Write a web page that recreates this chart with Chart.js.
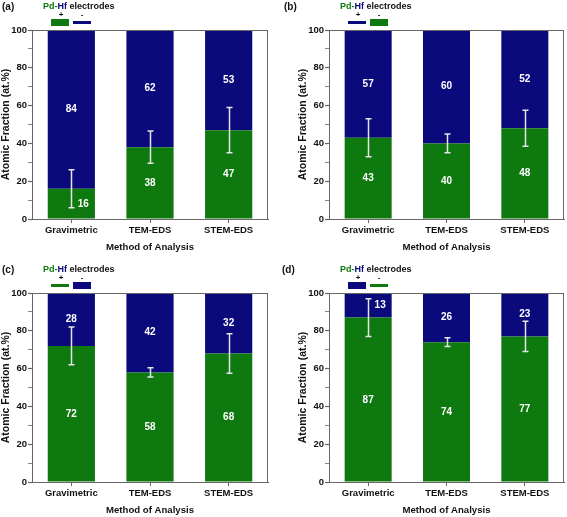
<!DOCTYPE html>
<html>
<head>
<meta charset="utf-8">
<script src="https://cdn.jsdelivr.net/npm/chart.js@4/dist/chart.umd.min.js"></script>
<style>
  html, body { margin: 0; padding: 0; background: #fff; }
  #wrap { position: relative; width: 567px; height: 517px; overflow: hidden; }
  canvas { position: absolute; }
</style>
</head>
<body>
<div id="wrap">
  <canvas id="panelA" width="280" height="254" style="left:0;top:0"></canvas>
  <canvas id="panelB" width="287" height="254" style="left:280px;top:0"></canvas>
  <canvas id="panelC" width="280" height="254" style="left:0;top:263px"></canvas>
  <canvas id="panelD" width="287" height="254" style="left:280px;top:263px"></canvas>
</div>
<script>
const categories = ["Gravimetric", "TEM-EDS", "STEM-EDS"];
const yTicks = [0, 20, 40, 60, 80, 100];

// Pd (green, bottom) / Hf (blue, top), at.%
const pdA = [16, 38, 47];
const hfA = [84, 62, 53];
const errA = [10, 8.5, 12];

const pdB = [43, 40, 48];
const hfB = [57, 60, 52];
const errB = [10, 5, 9.5];

const pdC = [72, 58, 68];
const hfC = [28, 42, 32];
const errC = [10, 2.5, 10.5];

const pdD = [87, 74, 77];
const hfD = [13, 26, 23];
const errD = [10, 2.3, 8];

const GREEN = "#0e790f";
const BLUE = "#0a0a7c";
const AXIS = "#666";
const FONT = "'Liberation Sans', Arial, sans-serif";

const overlay = {
    id: "overlay",
    afterDatasetsDraw(chart, args, opts) {
        const ctx = chart.ctx, a = chart.chartArea;
        const y = chart.scales.y;
        const pd = chart.data.datasets[0].data, hf = chart.data.datasets[1].data;
        const meta = chart.getDatasetMeta(0);
        ctx.save();

        // frame
        ctx.strokeStyle = AXIS;
        ctx.lineWidth = 1;
        ctx.strokeRect(Math.round(a.left) + 0.5, Math.round(a.top) + 0.5, a.right - a.left - 1, a.bottom - a.top);

        // error bars on the Pd / Hf boundary
        ctx.strokeStyle = "#e6e6e6";
        ctx.lineWidth = 1.5;
        pd.forEach((v, i) => {
            const cx = Math.round(meta.data[i].x) + 0.5;
            const y1 = y.getPixelForValue(v - opts.err[i]);
            const y2 = y.getPixelForValue(v + opts.err[i]);
            ctx.beginPath();
            ctx.moveTo(cx, y1); ctx.lineTo(cx, y2);
            ctx.moveTo(cx - 3, y1); ctx.lineTo(cx + 3, y1);
            ctx.moveTo(cx - 3, y2); ctx.lineTo(cx + 3, y2);
            ctx.stroke();
        });

        // value labels
        ctx.fillStyle = "#fff";
        ctx.font = "bold 10px " + FONT;
        ctx.textAlign = "center";
        ctx.textBaseline = "middle";
        pd.forEach((v, i) => {
            const cx = meta.data[i].x;
            const segs = [[0, v], [v, v + hf[i]]];
            segs.forEach(([lo, hi]) => {
                const val = hi - lo;
                const shift = val < 20 ? 12 : 0;
                ctx.fillText(String(val), cx + shift, y.getPixelForValue((lo + hi) / 2));
            });
        });

        // panel letter
        ctx.fillStyle = "#111";
        ctx.textAlign = "left";
        ctx.font = "bold 10px " + FONT;
        ctx.fillText(opts.letter, opts.letterX, 7);

        // legend title: Pd-Hf electrodes
        const lx = a.left + 11;
        ctx.font = "bold 9px " + FONT;
        const parts = [["Pd-", GREEN], ["Hf", BLUE], [" electrodes", "#111"]];
        let px = lx;
        parts.forEach(([t, c]) => {
            ctx.fillStyle = c;
            ctx.fillText(t, px, 7);
            px += ctx.measureText(t).width;
        });

        // legend symbols
        ctx.fillStyle = "#111";
        ctx.textAlign = "center";
        ctx.font = "bold 8px " + FONT;
        ctx.fillText("+", a.left + 29, 15);
        ctx.fillText("-", a.left + 50, 15);
        [opts.plus, opts.minus].forEach((s, k) => {
            const x0 = a.left + 19 + k * 22;
            ctx.fillStyle = s.color;
            if (s.box) ctx.fillRect(x0, 19, 18, 7);
            else ctx.fillRect(x0, 21, 18, 3);
        });
        ctx.restore();
    }
};

function makePanel(id, pd, hf, err, opts) {
    new Chart(document.getElementById(id), {
        type: "bar",
        data: {
            labels: categories,
            datasets: [
                { label: "Pd", data: pd, backgroundColor: GREEN, borderWidth: 0 },
                { label: "Hf", data: hf, backgroundColor: BLUE, borderWidth: 0 }
            ]
        },
        options: {
            responsive: false,
            animation: false,
            devicePixelRatio: 1,
            categoryPercentage: 1,
            barPercentage: 0.6,
            layout: { padding: { top: 30, left: opts.padLeft, right: opts.padRight, bottom: 0 } },
            plugins: {
                legend: { display: false },
                tooltip: { enabled: false },
                overlay: { err: err, letter: opts.letter, letterX: opts.letterX, plus: opts.plus, minus: opts.minus }
            },
            scales: {
                x: {
                    stacked: true,
                    offset: true,
                    grid: { offset: false, drawOnChartArea: false, drawTicks: true, tickLength: 4, color: AXIS },
                    border: { display: true, color: AXIS, width: 1 },
                    ticks: { color: "#111", padding: 2, font: { family: FONT, weight: "bold", size: 9.5 } },
                    title: { display: true, text: "Method of Analysis", color: "#111", padding: { top: 0, bottom: 1 }, font: { family: FONT, weight: "bold", size: 9.6 } },
                    afterFit: s => { s.height = 35; }
                },
                y: {
                    stacked: true,
                    min: 0,
                    max: 100,
                    ticks: {
                        stepSize: 10,
                        color: "#111",
                        padding: 1,
                        font: { family: FONT, weight: "bold", size: 9.5 },
                        callback: v => yTicks.includes(v) ? v : ""
                    },
                    grid: {
                        drawOnChartArea: false, drawTicks: true, tickLength: 4, color: AXIS,
                        tickWidth: c => yTicks.includes(c.tick && c.tick.value) ? 1.2 : 0.8
                    },
                    border: { display: true, color: AXIS, width: 1 },
                    title: { display: true, text: "Atomic Fraction (at.%)", color: "#111", padding: 0, font: { family: FONT, weight: "bold", size: 10.5 } },
                    afterFit: s => { s.width = 32; }
                }
            }
        },
        plugins: [overlay]
    });
}

makePanel("panelA", pdA, hfA, errA, {
    letter: "(a)", letterX: 2, padLeft: 0, padRight: 12,
    plus: { color: GREEN, box: true }, minus: { color: BLUE, box: false }
});
makePanel("panelB", pdB, hfB, errB, {
    letter: "(b)", letterX: 4, padLeft: 17, padRight: 3,
    plus: { color: BLUE, box: false }, minus: { color: GREEN, box: true }
});
makePanel("panelC", pdC, hfC, errC, {
    letter: "(c)", letterX: 2, padLeft: 0, padRight: 12,
    plus: { color: GREEN, box: false }, minus: { color: BLUE, box: true }
});
makePanel("panelD", pdD, hfD, errD, {
    letter: "(d)", letterX: 2, padLeft: 17, padRight: 3,
    plus: { color: BLUE, box: true }, minus: { color: GREEN, box: false }
});
</script>
</body>
</html>
